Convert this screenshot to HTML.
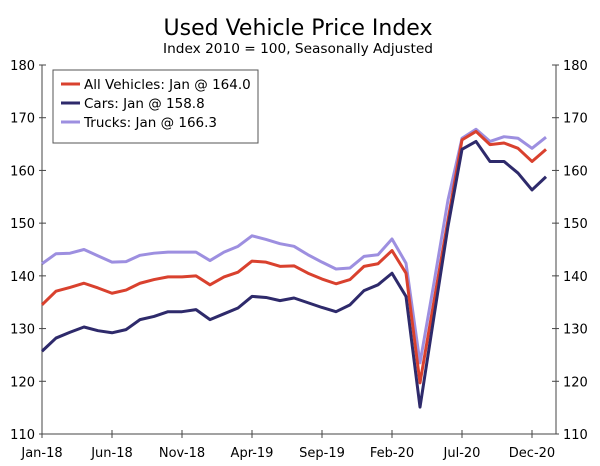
<!DOCTYPE html>
<html><head><meta charset="utf-8"><style>
body{margin:0;background:#fff;}
svg text{font-family:"DejaVu Sans","Liberation Sans",sans-serif;fill:#000;}
</style></head><body>
<svg width="600" height="461" viewBox="0 0 600 461">
<text x="298" y="35" text-anchor="middle" font-size="22">Used Vehicle Price Index</text>
<text x="298" y="53" text-anchor="middle" font-size="13.7">Index 2010 = 100, Seasonally Adjusted</text>
<g id="axes"></g>
<g id="series"></g>
<g>
<rect x="53" y="70" width="205" height="73" fill="#fff" stroke="#555" stroke-width="1"/>
<line x1="61" y1="84" x2="80" y2="84" stroke="#d9412e" stroke-width="3"/>
<text x="84" y="89" font-size="13.5">All Vehicles: Jan @ 164.0</text>
<line x1="61" y1="103" x2="80" y2="103" stroke="#2e2a6b" stroke-width="3"/>
<text x="84" y="108" font-size="13.5">Cars: Jan @ 158.8</text>
<line x1="61" y1="122" x2="80" y2="122" stroke="#9d8fe0" stroke-width="3"/>
<text x="84" y="127" font-size="13.5">Trucks: Jan @ 166.3</text>
</g>
</svg>
<script>
const allVehicles=[134.5,137.1,137.8,138.6,137.7,136.7,137.3,138.6,139.3,139.8,139.8,140.0,138.3,139.8,140.7,142.8,142.6,141.8,141.9,140.5,139.4,138.5,139.3,141.8,142.3,144.8,140.5,119.7,135.2,150.6,165.8,167.4,164.9,165.2,164.2,161.7,164.0];
const cars=[125.7,128.2,129.3,130.3,129.6,129.2,129.8,131.7,132.3,133.2,133.2,133.6,131.7,132.8,133.9,136.1,135.9,135.3,135.8,134.9,134.0,133.2,134.5,137.2,138.3,140.5,136.1,115.1,132.3,149.4,164.0,165.5,161.7,161.7,159.5,156.3,158.8];
const trucks=[142.3,144.2,144.3,145.0,143.8,142.6,142.7,143.9,144.3,144.5,144.5,144.5,142.9,144.5,145.6,147.6,146.9,146.1,145.6,144.0,142.6,141.3,141.5,143.7,144.0,147.0,142.4,123.5,138.7,154.4,166.1,167.8,165.5,166.4,166.1,164.2,166.3];
const yTicks=[110,120,130,140,150,160,170,180];
const xTickLabels=["Jan-18","Jun-18","Nov-18","Apr-19","Sep-19","Feb-20","Jul-20","Dec-20"];
const xTickIdx=[0,5,10,15,20,25,30,35];
const NS="http://www.w3.org/2000/svg";
const L=42,R=556,T=65,B=434;
function xs(i){return 42+14*i;}
function ys(v){return B-(v-110)*(B-T)/70;}
function mk(tag,attrs,parent){const e=document.createElementNS(NS,tag);for(const k in attrs)e.setAttribute(k,attrs[k]);parent.appendChild(e);return e;}
const ax=document.getElementById('axes');
let e=mk('line',{x1:L,y1:T,x2:L,y2:B,stroke:'#444','stroke-width':1},ax);


e=mk('line',{x1:R,y1:T,x2:R,y2:B,stroke:'#444','stroke-width':1},ax);


e=mk('line',{x1:L,y1:B,x2:R,y2:B,stroke:'#444','stroke-width':1},ax);


yTicks.forEach(v=>{
 const y=ys(v);
 let t=mk('line',{x1:L-3,y1:y,x2:L+4,y2:y,stroke:'#444'},ax);
 
 
 t=mk('line',{x1:R-4,y1:y,x2:R+3,y2:y,stroke:'#444'},ax);
 
 
 let tx=mk('text',{x:35,y:y+5,'text-anchor':'end','font-size':13},ax);tx.textContent=v;
 
 
 tx=mk('text',{x:563,y:y+5,'font-size':13},ax);tx.textContent=v;
 
 
});
xTickIdx.forEach((i,k)=>{
 const x=xs(i);
 let t=mk('line',{x1:x,y1:B-4,x2:x,y2:B+4,stroke:'#444'},ax);
 
 
 let tx=mk('text',{x:x,y:457,'text-anchor':'middle','font-size':13},ax);tx.textContent=xTickLabels[k];
 
 
});
const sg=document.getElementById('series');
function line(data,color,name){
 const p=mk('polyline',{points:data.map((v,i)=>xs(i)+','+ys(v)).join(' '),fill:'none',stroke:color,'stroke-width':3,'stroke-linejoin':'round'},sg);
 
 
}
line(trucks,'#9d8fe0','trucks-line');
line(allVehicles,'#d9412e','all-vehicles-line');
line(cars,'#2e2a6b','cars-line');
</script>
</body></html>
